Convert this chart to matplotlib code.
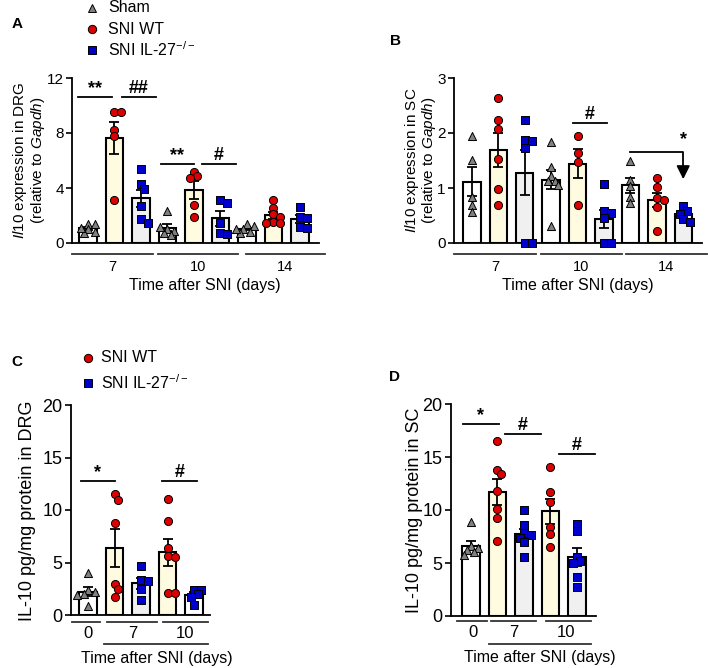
import matplotlib.pyplot as plt
import numpy as np
from matplotlib.lines import Line2D

plt.rcParams['font.family'] = ['Liberation Sans', 'DejaVu Sans']
plt.rcParams['mathtext.fontset'] = 'custom'
plt.rcParams['mathtext.rm'] = 'Liberation Sans'
plt.rcParams['mathtext.it'] = 'Liberation Sans:italic'
plt.rcParams['axes.linewidth'] = 1.3

# ---- data (one list per day) ----
a_days = ["7", "10", "14"]
a_sham = [[1.4, 1.4, 1.0, 0.8, 0.7, 1.1],
          [2.35, 1.0, 0.9, 0.7, 0.6, 1.2],
          [1.35, 1.25, 1.0, 0.8, 0.7, 1.0]]
a_wt = [[9.55, 9.55, 8.2, 7.8, 3.1],
        [5.19, 4.87, 4.7, 2.76, 1.91],
        [3.13, 2.52, 2.09, 1.91, 1.55, 1.43, 1.48]]
a_ko = [[5.36, 4.27, 3.9, 2.69, 1.72, 1.48],
        [3.13, 2.93, 1.48, 0.75, 0.63],
        [2.64, 1.91, 1.8, 1.19, 1.1]]

b_days = ["7", "10", "14"]
b_sham = [[1.95, 1.51, 0.84, 0.70, 0.57],
          [1.84, 1.38, 1.21, 1.13, 1.12, 1.05, 0.31],
          [1.50, 1.15, 1.03, 0.83, 0.72]]
b_wt = [[2.64, 2.24, 2.08, 1.52, 0.98, 0.69],
        [1.95, 1.63, 1.48, 0.70],
        [1.19, 1.01, 0.82, 0.79, 0.66, 0.22]]
b_ko = [[2.24, 1.87, 1.85, 1.72, 0.0, 0.0],
        [1.07, 0.59, 0.55, 0.45, 0.0, 0.0],
        [0.67, 0.58, 0.53, 0.44, 0.39]]

c_days = ["0", "7", "10"]
c_sham = [4.03, 2.38, 2.2, 2.0, 1.9, 0.89]
c_wt = [[11.49, 11.0, 8.73, 2.92, 2.48, 1.68],
        [11.05, 8.95, 6.41, 5.6, 5.56, 2.06, 2.06]]
c_ko = [[4.7, 3.33, 3.2, 2.48, 1.43],
        [2.38, 2.38, 1.97, 1.75, 0.95]]

d_days = ["0", "7", "10"]
d_sham = [8.84, 6.6, 6.4, 6.2, 6.0, 5.8]
d_wt = [[16.5, 13.77, 13.4, 11.8, 10.06, 9.21, 7.07],
        [14.03, 11.73, 10.79, 8.43, 7.7, 6.54]]
d_ko = [[10.0, 8.58, 7.8, 7.64, 7.4, 7.0, 5.6],
        [8.65, 8.05, 5.6, 5.2, 5.0, 3.7, 2.7]]

# ---- styles ----
SHAM = dict(marker='^', color='#808080', fill='white', s=34)
WT = dict(marker='o', color='#dd0000', fill='#fffbe0', s=34)
KO = dict(marker='s', color='#0000cc', fill='#f0f0f0', s=30)
KO_WHITE = dict(KO, fill='white')

W, H = 708, 668
fig = plt.figure(figsize=(W / 100, H / 100), dpi=100)


def px_axes(left, top, right, bottom):
    return fig.add_axes([left / W, 1 - bottom / H, (right - left) / W, (bottom - top) / H])


def swarm(vals, px_y, px_x=26.5, d=7.0):
    # simple beeswarm in pixel space, points may overlap a little
    placed = []
    offs = []
    for v in vals:
        y = v * px_y
        for k in [0, 1, -1, 2, -2, 3, -3]:
            x = k * d * 0.5
            if all((x - px) ** 2 + (y - py) ** 2 >= (0.75 * d) ** 2 for px, py in placed):
                break
        placed.append((x, y))
        offs.append(x / px_x)
    return np.array(offs)


def draw_bar(ax, x, vals, style, px_y):
    vals = np.asarray(vals, dtype=float)
    mean = vals.mean()
    sem = vals.std(ddof=1) / np.sqrt(len(vals))
    ax.bar(x, mean, width=0.66, color=style['fill'], edgecolor='black', linewidth=1.5, zorder=2)
    ax.errorbar(x, mean, yerr=sem, color='black', lw=1.3, capsize=3.5, capthick=1.3, zorder=3)
    ax.scatter(x + swarm(vals, px_y), vals, marker=style['marker'], s=style['s'],
               c=style['color'], edgecolors='black', linewidths=0.7, zorder=4, clip_on=False)


def style_axes(ax, yticks, ylim, xlim):
    ax.set_ylim(ylim)
    ax.set_xlim(xlim)
    ax.set_yticks(yticks)
    ax.set_xticks([])
    ax.spines['top'].set_visible(False)
    ax.spines['right'].set_visible(False)
    ax.tick_params(axis='y', length=4, width=1.2, labelsize=11, pad=2)


def set_ylab(ax, text, x, y, size, spacing=0.95):
    ax.set_ylabel(text, fontsize=size, linespacing=spacing)
    ax.yaxis.set_label_coords(x, y)
    ax.yaxis.label.set_va('center')


def sig(ax, x0, x1, y, label, dy=0.0):
    ax.plot([x0, x1], [y, y], color='black', lw=1.3, clip_on=False)
    ax.text((x0 + x1) / 2, y + dy, label, ha='center', va='bottom', fontsize=13,
            fontweight='bold')


def under_lines(ax, segs, yfrac, color='#333333'):
    tr = ax.get_xaxis_transform()
    for x0, x1 in segs:
        ax.plot([x0, x1], [yfrac, yfrac], color=color, lw=1.3, transform=tr, clip_on=False)


def under_text(ax, xs, labels, yfrac, size=10.5):
    tr = ax.get_xaxis_transform()
    for x, t in zip(xs, labels):
        ax.text(x, yfrac, t, ha='center', va='center', fontsize=size, transform=tr)


# ---------------- A ----------------
axA = px_axes(72, 78, 318.5, 243)
for i in range(3):
    draw_bar(axA, 3 * i, a_sham[i], SHAM, 13.75)
    draw_bar(axA, 3 * i + 1, a_wt[i], WT, 13.75)
    draw_bar(axA, 3 * i + 2, a_ko[i], KO, 13.75)
style_axes(axA, [0, 4, 8, 12], (0, 12), (-0.6, 8.7))
set_ylab(axA, '$\\mathit{Il10}$ expression in DRG\n(relative to $\\mathit{Gapdh}$)',
         -0.175, 0.5, 11)
sig(axA, -0.38, 0.9, 10.6, '**')
sig(axA, 1.28, 2.57, 10.6, '##')
sig(axA, 2.75, 4.0, 5.75, '**')
sig(axA, 4.3, 5.58, 5.75, '#')
segA = [(-0.6, 2.45), (2.64, 5.66), (5.96, 8.94)]
under_lines(axA, segA, -0.067)
under_text(axA, [(a + b) / 2 for a, b in segA], a_days, -0.145)
axA.text(0.54, -0.26, 'Time after SNI (days)', transform=axA.transAxes, ha='center',
         va='center', fontsize=11.5)

# ---------------- B ----------------
axB = px_axes(454, 78, 701.7, 243)
for i in range(3):
    draw_bar(axB, 3 * i, b_sham[i], SHAM, 55)
    draw_bar(axB, 3 * i + 1, b_wt[i], WT, 55)
    draw_bar(axB, 3 * i + 2, b_ko[i], KO, 55)
style_axes(axB, [0, 1, 2, 3], (0, 3), (-0.68, 8.7))
set_ylab(axB, '$\\mathit{Il10}$ expression in SC\n(relative to $\\mathit{Gapdh}$)',
         -0.135, 0.5, 11)
sig(axB, 3.83, 5.11, 2.18, '#')
axB.plot([6, 8, 8], [1.65, 1.65, 1.3], color='black', lw=1.3)
axB.annotate('', xy=(8, 1.11), xytext=(8, 1.35),
             arrowprops=dict(arrowstyle='-|>', color='black', lw=1.3, mutation_scale=20))
axB.text(8, 1.72, '*', ha='center', va='bottom', fontsize=13, fontweight='bold')
segB = [(-0.68, 2.42), (2.61, 5.68), (5.83, 8.9)]
under_lines(axB, segB, -0.067)
under_text(axB, [(a + b) / 2 for a, b in segB], b_days, -0.145)
axB.text(0.5, -0.26, 'Time after SNI (days)', transform=axB.transAxes, ha='center',
         va='center', fontsize=11.5)

# ---------------- C ----------------
axC = px_axes(71, 405, 210, 615)
draw_bar(axC, 0, c_sham, SHAM, 10.5)
draw_bar(axC, 1, c_wt[0], WT, 10.5)
draw_bar(axC, 2, c_ko[0], KO, 10.5)
draw_bar(axC, 3, c_wt[1], WT, 10.5)
draw_bar(axC, 4, c_ko[1], KO_WHITE, 10.5)
style_axes(axC, [0, 5, 10, 15, 20], (0, 20), (-0.64, 4.6))
axC.tick_params(axis='y', labelsize=13)
set_ylab(axC, 'IL-10 pg/mg protein in DRG', -0.31, 0.495, 13)
sig(axC, -0.26, 1.0, 12.8, '*')
sig(axC, 2.8, 4.1, 12.8, '#')
under_lines(axC, [(-0.6, 0.45), (0.72, 2.6), (2.83, 4.53)], -0.033)
under_lines(axC, [(0.6, 4.53)], -0.138)
under_text(axC, [0, 1.7, 3.66], c_days, -0.086, size=12)
axC.text(2.6, -0.205, 'Time after SNI (days)', transform=axC.get_xaxis_transform(),
         ha='center', va='center', fontsize=11.5)

# ---------------- D ----------------
axD = px_axes(451, 404, 595.5, 616)
draw_bar(axD, 0, d_sham, SHAM, 10.6)
draw_bar(axD, 1, d_wt[0], WT, 10.6)
draw_bar(axD, 2, d_ko[0], KO, 10.6)
draw_bar(axD, 3, d_wt[1], WT, 10.6)
draw_bar(axD, 4, d_ko[1], KO, 10.6)
style_axes(axD, [0, 5, 10, 15, 20], (0, 20), (-0.75, 4.7))
axD.tick_params(axis='y', labelsize=13)
set_ylab(axD, 'IL-10 pg/mg protein in SC', -0.256, 0.5, 13)
sig(axD, -0.3, 1.06, 18.1, '*')
sig(axD, 1.28, 2.64, 17.2, '#')
sig(axD, 3.32, 4.68, 15.3, '#')
under_lines(axD, [(-0.53, 0.6), (0.75, 2.45), (2.83, 4.53)], -0.024)
under_lines(axD, [(0.68, 4.53)], -0.132)
under_text(axD, [0.08, 1.6, 3.6], d_days, -0.08, size=12)
axD.text(2.6, -0.198, 'Time after SNI (days)', transform=axD.get_xaxis_transform(),
         ha='center', va='center', fontsize=11.5)


# ---------------- legends + panel letters ----------------
def legend_rows(x_mark, x_text, ys, styles, labels):
    for y, st, lab in zip(ys, styles, labels):
        fig.add_artist(Line2D([x_mark / W], [1 - y / H], marker=st['marker'], ms=6,
                              color=st['color'], mec='black', mew=0.7, ls='none',
                              transform=fig.transFigure))
        fig.text(x_text / W, 1 - y / H, lab, ha='left', va='center', fontsize=11.5)


legend_rows(92, 108, [8, 29, 50], [SHAM, WT, KO], ['Sham', 'SNI WT', 'SNI IL-27$^{-/-}$'])
legend_rows(88, 101, [358, 383], [WT, KO], ['SNI WT', 'SNI IL-27$^{-/-}$'])

for x, y, t in [(17, 24, 'A'), (396, 41, 'B'), (17, 362, 'C'), (394, 377, 'D')]:
    fig.text(x / W, 1 - y / H, t, ha='center', va='center', fontsize=11, fontweight='bold')

fig.savefig('out.png', dpi=100)
